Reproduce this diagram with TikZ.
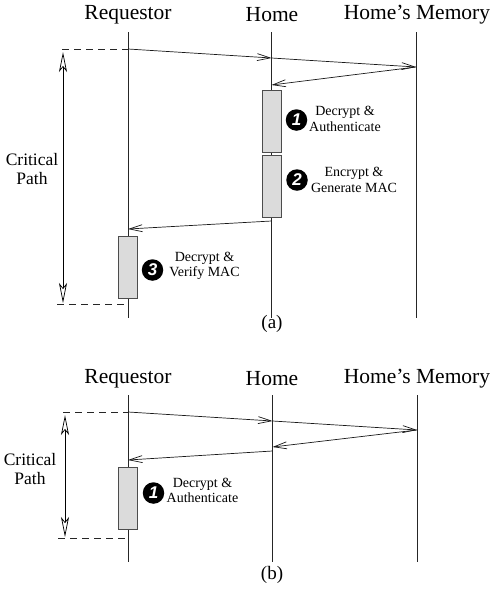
\documentclass[tikz,border=0pt]{standalone}
\usepackage{fontspec}
\setmainfont{Liberation Serif}
\newfontfamily\numfont{Liberation Sans}
\usetikzlibrary{arrows.meta}
\tikzset{
  lifeline/.style={draw=black!85, line width=0.7pt},
  msg/.style={draw=black!90, line width=0.7pt, -{Straight Barb[length=13pt,width=7pt]}},
  guide/.style={draw=black!85, line width=0.7pt, dash pattern=on 7pt off 5pt},
  critarrow/.style={draw=black, line width=0.7pt, {Stealth[open,length=20pt,width=8pt,inset=5pt]}-{Stealth[open,length=20pt,width=8pt,inset=5pt]}},
  workbox/.style={draw=black!70, fill=black!14, line width=0.7pt, minimum width=19pt, inner sep=0pt},
  header/.style={font=\fontsize{21.5}{24}\selectfont, inner sep=0pt},
  steptext/.style={font=\fontsize{14}{15.5}\selectfont, align=center, inner sep=0pt},
  stepnum/.style={circle, fill=black, text=white, inner sep=0pt, minimum size=21.5pt, font=\numfont\bfseries\itshape\fontsize{17}{17}\selectfont},
  critlabel/.style={font=\fontsize{17.5}{19}\selectfont, align=center, inner sep=0pt},
  caption/.style={font=\fontsize{19}{21}\selectfont, inner sep=0pt}
}
\begin{document}
\begin{tikzpicture}[x=1pt,y=-1pt]
\useasboundingbox (0,0) rectangle (493,590);

% ---------------- (a) ----------------
\node[header] (ra) at (128,15) {Requestor};
\node[header] (ha) at (272,15) {Home};
\node[header] (ma) at (417,15) {Home’s Memory};

\coordinate (ra0) at (128,32);  \coordinate (ra1) at (128,318);
\coordinate (ha0) at (271.5,32);  \coordinate (ha1) at (271.5,318);
\coordinate (ma0) at (416,32);  \coordinate (ma1) at (416,318);
\draw[lifeline] (ra0) -- (ra1);
\draw[lifeline] (ha0) -- (ha1);
\draw[lifeline] (ma0) -- (ma1);

% processing boxes
\node[workbox, minimum height=62pt] (b1) at (271.5,121) {};
\node[workbox, minimum height=62pt] (b2) at (271.5,186) {};
\node[workbox, minimum height=62pt] (b3) at (128,267) {};

% messages
\coordinate (a1) at (128,49);
\coordinate (a2) at (271.5,58);
\coordinate (a3) at (416,67);
\coordinate (a4) at (271.5,85);
\coordinate (a5) at (271.5,221);
\coordinate (a6) at (128,229);
\draw[msg] (a1) -- (a2);
\draw[msg] (a2) -- (a3);
\draw[msg] (a3) -- (a4);
\draw[msg] (a5) -- (a6);

% critical path
\coordinate (ta) at (62,49);
\coordinate (ua) at (57,304);
\coordinate (ub) at (128,304);
\draw[guide] (ta) -- (a1);
\draw[guide] (ua) -- (ub);
\coordinate (ca0) at (63,52);
\coordinate (ca1) at (63,303);
\draw[critarrow] (ca0) -- (ca1);
\node[critlabel] (cpa) at (32,169) {Critical\\Path};

% step labels
\node[stepnum] (n1) at (296.5,120) {1};
\node[steptext] (t1) at (345,119) {Decrypt \&\\Authenticate};
\node[stepnum] (n2) at (297,180) {2};
\node[steptext] (t2) at (354,180) {Encrypt \&\\Generate MAC};
\node[stepnum] (n3) at (152.5,270) {3};
\node[steptext] (t3) at (204.5,266) {Decrypt \&\\Verify MAC};

\node[caption] (capa) at (272,324) {(a)};

% ---------------- (b) ----------------
\node[header] (rb) at (128,379) {Requestor};
\node[header] (hb) at (272,379) {Home};
\node[header] (mb) at (417,379) {Home’s Memory};

\coordinate (rb0) at (128,395);  \coordinate (rb1) at (128,562);
\coordinate (hb0) at (272.5,395);  \coordinate (hb1) at (272.5,562);
\coordinate (mb0) at (417,395);  \coordinate (mb1) at (417,562);
\draw[lifeline] (rb0) -- (rb1);
\draw[lifeline] (hb0) -- (hb1);
\draw[lifeline] (mb0) -- (mb1);

\node[workbox, minimum height=62pt] (b4) at (128,498) {};

\coordinate (c1) at (128,412);
\coordinate (c2) at (272.5,421);
\coordinate (c3) at (417,430);
\coordinate (c4) at (272.5,447);
\coordinate (c5) at (272.5,451);
\coordinate (c6) at (128,460);
\draw[msg] (c1) -- (c2);
\draw[msg] (c2) -- (c3);
\draw[msg] (c3) -- (c4);
\draw[msg] (c5) -- (c6);

\coordinate (tb) at (63,412);
\coordinate (vb) at (58,538);
\coordinate (wb) at (128,538);
\draw[guide] (tb) -- (c1);
\draw[guide] (vb) -- (wb);
\coordinate (cb0) at (65,415);
\coordinate (cb1) at (65,537);
\draw[critarrow] (cb0) -- (cb1);
\node[critlabel] (cpb) at (30,469) {Critical\\Path};

\node[stepnum] (n4) at (153.5,493) {1};
\node[steptext] (t4) at (202.5,490.5) {Decrypt \&\\Authenticate};

\node[caption] (capb) at (272,575) {(b)};
\end{tikzpicture}
\end{document}
